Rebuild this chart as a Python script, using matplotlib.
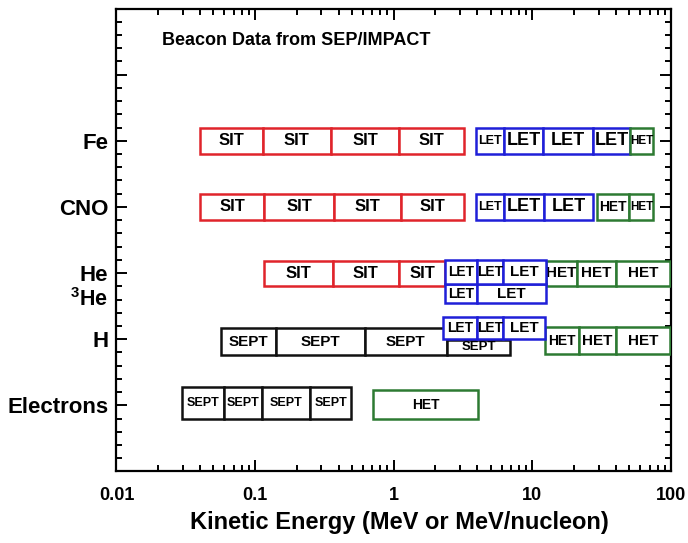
import matplotlib
matplotlib.use('Agg')
import matplotlib.pyplot as plt
from matplotlib.patches import Rectangle
from matplotlib.ticker import LogLocator, MultipleLocator, NullFormatter
import numpy as np

plt.rcParams['font.family'] = ['Liberation Sans', 'DejaVu Sans']
plt.rcParams['font.weight'] = 'bold'
plt.rcParams['mathtext.fontset'] = 'custom'
plt.rcParams['mathtext.rm'] = 'Liberation Sans:bold'
plt.rcParams['mathtext.bf'] = 'Liberation Sans:bold'

narrow = ['Liberation Sans Narrow', 'Liberation Sans', 'DejaVu Sans']

# energy bin edges (MeV or MeV/nucleon)
fe_sit = [0.04, 0.114, 0.35, 1.1, 3.2]
fe_let = [3.93, 6.2, 12.0, 27.5, 50.7]
fe_het = [50.7, 74.6]
cno_sit = [0.04, 0.116, 0.37, 1.12, 3.2]
cno_let = [3.93, 6.2, 12.1, 27.5]
cno_het = [29.4, 50.1, 74.6]
he_sit = [0.116, 0.363, 1.09, 2.35]
he_let = [2.35, 3.97, 6.11, 12.6]
he_het = [12.6, 20.9, 40.2, 98.5]
he3_let = [2.35, 3.97, 12.6]
h_sept = [0.0565, 0.1415, 0.62, 2.41]
h_sept_hi = [2.44, 6.9]
h_let = [2.26, 3.97, 6.11, 12.4]
h_het = [12.4, 21.7, 40.2, 98.5]
e_sept = [0.0295, 0.060, 0.113, 0.249, 0.492]
e_het = [0.705, 4.07]

species = ['Electrons', 'H', 'He', 'CNO', 'Fe']
species_pos = [5, 10, 15, 20, 25]
xticks = [0.01, 0.1, 1, 10, 100]
xticklabels = ['0.01', '0.1', '1', '10', '100']

red = '#e0242b'
blue = '#1f1fd8'
green = '#2d7a32'
black = '#111111'

fig = plt.figure(figsize=(6.88, 5.43), dpi=100)
ax = fig.add_axes([0.1693, 0.1317, 0.806, 0.8526])
ax.set_xscale('log')
ax.set_xlim(0.01, 100)
ax.set_ylim(0, 35)

zc = [2]


def boxes(edges, y0, y1, color, name, sizes):
    z = zc[0]
    for i in range(len(edges) - 1):
        lo, hi = edges[i], edges[i + 1]
        ax.add_patch(Rectangle((lo, y0), hi - lo, y1 - y0, facecolor='white',
                               edgecolor=color, lw=1.8, zorder=z))
        ax.text(np.sqrt(lo * hi), (y0 + y1) / 2, name, ha='center', va='center',
                fontsize=sizes[i], family=narrow, fontweight='bold', zorder=z + 0.5)
    zc[0] += 1


# Fe
boxes(fe_sit, 24, 26, red, 'SIT', [12, 12, 12, 12])
boxes(fe_let, 24, 26, blue, 'LET', [9, 13, 13, 13])
boxes(fe_het, 24, 26, green, 'HET', [8.5])
# CNO
boxes(cno_sit, 19, 21, red, 'SIT', [12, 12, 12, 12])
boxes(cno_let, 19, 21, blue, 'LET', [9, 13, 13])
boxes(cno_het, 19, 21, green, 'HET', [10, 8.5])
# He and 3He
boxes(he_sit, 14.05, 15.95, red, 'SIT', [12, 12, 12])
boxes(he_het, 14.05, 15.95, green, 'HET', [11, 11, 11])
boxes(he3_let, 12.7, 14.2, blue, 'LET', [10, 11])
boxes(he_let, 14.2, 16.0, blue, 'LET', [10, 10, 11])
# H
boxes(h_sept, 8.8, 10.85, black, 'SEPT', [11, 11, 11])
boxes(h_sept_hi, 8.8, 9.95, black, 'SEPT', [9.5])
boxes(h_het, 8.9, 10.9, green, 'HET', [10, 11, 11])
boxes(h_let, 10.0, 11.7, blue, 'LET', [10, 10, 11])
# Electrons
boxes(e_sept, 3.95, 6.35, black, 'SEPT', [9, 9, 9, 9])
boxes(e_het, 3.95, 6.15, green, 'HET', [10])

ax.set_xticks(xticks)
ax.set_xticklabels(xticklabels, fontsize=13, fontweight='bold')
ax.xaxis.set_minor_locator(LogLocator(base=10, subs=np.arange(2, 10)))
ax.xaxis.set_minor_formatter(NullFormatter())

ax.set_yticks([0] + species_pos + [30, 35])
ax.set_yticklabels([''] + species + ['', ''], fontsize=16, fontweight='bold')
ax.yaxis.set_minor_locator(MultipleLocator(1))

ax.tick_params(which='both', direction='in', top=True, right=True, width=1.4)
ax.tick_params(which='major', length=8)
ax.tick_params(which='minor', length=4)
ax.tick_params(axis='x', pad=11)
ax.tick_params(axis='y', pad=6)
for s in ax.spines.values():
    s.set_linewidth(1.6)

ax.annotate(r'$^{3}$He', xy=(0, 13.0), xycoords=('axes fraction', 'data'),
            xytext=(-6, 0), textcoords='offset points', ha='right', va='center',
            fontsize=15.5, fontweight='bold')

ax.text(0.3246, 0.93, 'Beacon Data from SEP/IMPACT', transform=ax.transAxes,
        ha='center', va='center', fontsize=13, family=narrow, fontweight='bold')

fig.text(0.58, 1 - 523 / 543, 'Kinetic Energy (MeV or MeV/nucleon)',
         ha='center', va='center', fontsize=17, fontweight='bold')

fig.savefig('out.png', dpi=100)
